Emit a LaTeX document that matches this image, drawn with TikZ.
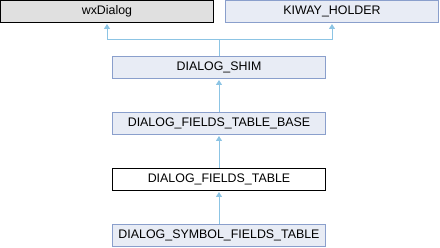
\documentclass[tikz,border=0pt]{standalone}
\usepackage{fontspec}
\setmainfont{Liberation Sans}
\usetikzlibrary{arrows.meta}
\definecolor{boxfill}{RGB}{232,236,245}
\definecolor{boxline}{RGB}{138,159,204}
\definecolor{grayfill}{RGB}{224,224,224}
\definecolor{edge}{RGB}{140,196,228}
\begin{document}
\begin{tikzpicture}[x=1pt,y=1pt,
  cls/.style={draw=boxline,fill=boxfill,line width=1pt,minimum width=213pt,minimum height=22pt,inner sep=0pt,font=\fontsize{12.4}{14}\selectfont},
  ext/.style={cls,draw=black,fill=grayfill},
  cur/.style={cls,draw=black,fill=white},
  inh/.style={draw=edge,line width=1pt,-{Triangle[width=6pt,length=5pt]},shorten >=1pt}]
\useasboundingbox (0,0) rectangle (440,248);
\node[ext] (wx) at (107,236.5) {wxDialog};
\node[cls] (kw) at (332,236.5) {KIWAY\_HOLDER};
\node[cls] (shim) at (219,180.5) {DIALOG\_SHIM};
\node[cls] (base) at (219,124.5) {DIALOG\_FIELDS\_TABLE\_BASE};
\node[cur] (tbl) at (219,68.5) {DIALOG\_FIELDS\_TABLE};
\node[cls] (sym) at (219,12.5) {DIALOG\_SYMBOL\_FIELDS\_TABLE};
\coordinate (j) at (219,208);
\draw[draw=edge,line width=1pt] (shim.north) -- (j);
\draw[inh] (j) -| (wx.south);
\draw[inh] (j) -| (kw.south);
\draw[inh] (base.north) -- (shim.south);
\draw[inh] (tbl.north) -- (base.south);
\draw[inh] (sym.north) -- (tbl.south);
\end{tikzpicture}
\end{document}
